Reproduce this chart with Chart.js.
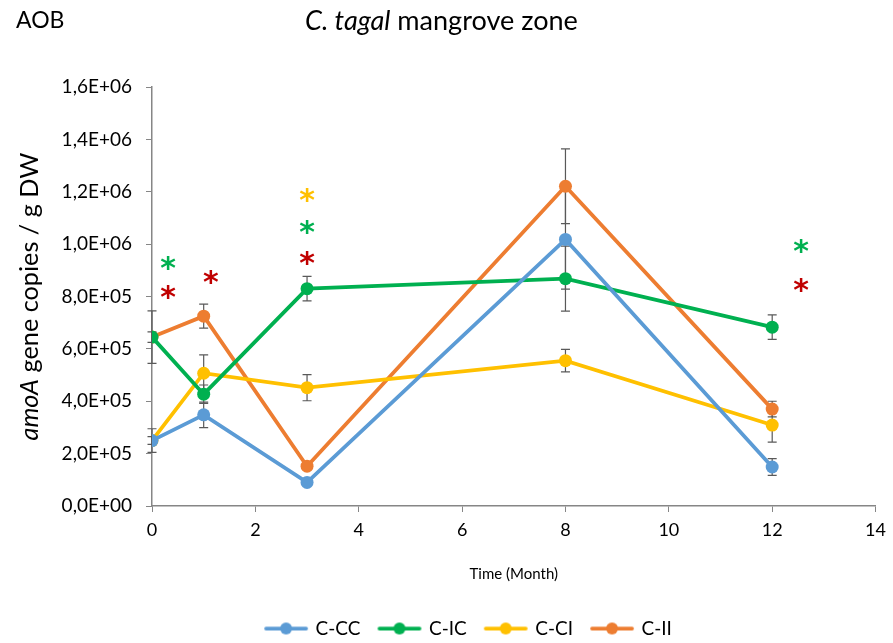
<!DOCTYPE html>
<html>
<head>
<meta charset="utf-8">
<script src="https://cdn.jsdelivr.net/npm/chart.js@4"></script>
<style>
  html, body { margin: 0; padding: 0; background: #fff; }
  #wrap { width: 893px; height: 643px; }
</style>
</head>
<body>
<div id="wrap"><canvas id="chart" width="893" height="643"></canvas></div>
<script>
// months sampled
const months = [0, 1, 3, 8, 12];

// amoA gene copies / g DW per treatment
const cc = [250000, 348000, 90000, 1018000, 149000];
const ic = [645000, 427000, 830000, 868000, 683000];
const ci = [250000, 507000, 452000, 555000, 309000];
const ii = [645000, 725000, 152000, 1221000, 370000];

// error bar half widths
const ccErr = [45000, 49000, 10000, 190000, 32000];
const icErr = [20000, 35000, 47000, 124000, 47000];
const ciErr = [15000, 70000, 50000, 43000, 65000];
const iiErr = [100000, 46000, 10000, 143000, 30000];

// significance asterisks: [x, y, colour]
const stars = [
    [0.31, 926000, "#00B050"], [0.31, 815000, "#C00000"],
    [1.14, 873000, "#C00000"],
    [3.0, 1187000, "#FFC000"], [3.0, 1064000, "#00B050"], [3.0, 946000, "#C00000"],
    [12.56, 991000, "#00B050"], [12.56, 842000, "#C00000"],
];

const yTicks = [0, 200000, 400000, 600000, 800000, 1000000, 1200000, 1400000, 1600000];

const FONT = "Lato, 'Open Sans', sans-serif";
const AXIS = "#868686";

function toXY(vals) {
    return vals.map((v, i) => ({ x: months[i], y: v }));
}

// legend swatch: line with a dot, pushed to the right of a wider canvas
function legendIcon(color) {
    const c = document.createElement("canvas");
    c.width = 62;
    c.height = 14;
    const g = c.getContext("2d");
    g.strokeStyle = color;
    g.lineWidth = 3.75;
    g.lineCap = "round";
    g.beginPath();
    g.moveTo(19, 7);
    g.lineTo(59, 7);
    g.stroke();
    g.fillStyle = color;
    g.beginPath();
    g.arc(39, 7, 6, 0, Math.PI * 2);
    g.fill();
    return c;
}

// font size that makes the given [text, italic] pieces span a width
function fitSize(ctx, parts, width) {
    const measure = (sz) => parts.reduce((sum, [t, it]) => {
        ctx.font = (it ? "italic " : "") + sz + "px " + FONT;
        return sum + ctx.measureText(t).width;
    }, 0);
    return 20 * width / measure(20);
}

function drawParts(ctx, parts, x, y, size) {
    parts.forEach(([t, it]) => {
        ctx.font = (it ? "italic " : "") + size + "px " + FONT;
        ctx.fillText(t, x, y);
        x += ctx.measureText(t).width;
    });
}

const series = [
    { label: "C-CC", data: cc, err: ccErr, color: "#5B9BD5" },
    { label: "C-IC", data: ic, err: icErr, color: "#00B050" },
    { label: "C-CI", data: ci, err: ciErr, color: "#FFC000" },
    { label: "C-II", data: ii, err: iiErr, color: "#ED7D31" },
];

const errorBars = {
    id: "errorBars",
    beforeDatasetsDraw(chart) {
        const { ctx, scales: { x, y } } = chart;
        ctx.save();
        ctx.strokeStyle = "#595959";
        ctx.lineWidth = 1.2;
        series.forEach((s) => {
            s.data.forEach((v, i) => {
                const px = x.getPixelForValue(months[i]);
                const top = y.getPixelForValue(v + s.err[i]);
                const bot = y.getPixelForValue(v - s.err[i]);
                ctx.beginPath();
                ctx.moveTo(px, top);
                ctx.lineTo(px, bot);
                ctx.moveTo(px - 4.5, top);
                ctx.lineTo(px + 4.5, top);
                ctx.moveTo(px - 4.5, bot);
                ctx.lineTo(px + 4.5, bot);
                ctx.stroke();
            });
        });
        ctx.restore();
    },
    afterDatasetsDraw(chart) {
        const { ctx, scales: { x, y } } = chart;
        ctx.save();
        ctx.font = "bold 30px 'DejaVu Sans', sans-serif";
        ctx.textAlign = "center";
        ctx.textBaseline = "middle";
        stars.forEach(([sx, sy, col]) => {
            ctx.fillStyle = col;
            ctx.fillText("*", x.getPixelForValue(sx), y.getPixelForValue(sy) + 7);
        });
        ctx.restore();
    },
    afterDraw(chart) {
        const { ctx, chartArea } = chart;
        ctx.save();
        ctx.fillStyle = "#000";
        ctx.textBaseline = "middle";
        ctx.font = "23px " + FONT;
        ctx.fillText("AOB", 16, 21);

        const title = [["C. tagal", true], [" mangrove zone", false]];
        drawParts(ctx, title, 305, 21, fitSize(ctx, title, 273));

        // y axis title with italic gene name
        const ylab = [["amoA", true], [" gene copies / g DW", false]];
        const ysz = fitSize(ctx, ylab, 288);
        ctx.translate(30, (chartArea.top + chartArea.bottom) / 2);
        ctx.rotate(-Math.PI / 2);
        drawParts(ctx, ylab, -144, 0, ysz);
        ctx.restore();
    },
};

new Chart(document.getElementById("chart"), {
    type: "line",
    data: {
        datasets: series.map((s) => ({
            label: s.label,
            data: toXY(s.data),
            borderColor: s.color,
            backgroundColor: s.color,
            borderWidth: 3.75,
            pointRadius: 6.5,
            pointHoverRadius: 6.5,
            pointBorderWidth: 0,
            tension: 0,
            icon: legendIcon(s.color),
        })),
    },
    options: {
        responsive: false,
        animation: false,
        layout: { padding: { top: 87, right: 15, left: 44, bottom: -5 } },
        plugins: {
            tooltip: { enabled: false },
            legend: {
                position: "bottom",
                labels: {
                    usePointStyle: true,
                    pointStyleWidth: 56,
                    color: "#000",
                    font: { family: FONT, size: 19 },
                    padding: 3,
                    generateLabels: (chart) => chart.data.datasets.map((d, i) => ({
                        text: d.label,
                        pointStyle: d.icon,
                        fillStyle: d.borderColor,
                        strokeStyle: d.borderColor,
                        lineWidth: 0,
                        datasetIndex: i,
                        fontColor: "#000",
                    })),
                },
            },
        },
        scales: {
            x: {
                type: "linear",
                min: 0,
                max: 14,
                afterFit: (s) => { s.height = 110; },
                ticks: { stepSize: 2, color: "#000", padding: 7, font: { family: FONT, size: 18 } },
                grid: { display: true, drawOnChartArea: false, drawTicks: true, tickLength: 6, tickColor: AXIS },
                border: { color: AXIS, width: 1.5 },
                title: {
                    display: true,
                    text: "Time (Month)",
                    color: "#000",
                    font: { family: FONT, size: 15 },
                    padding: { top: 10, bottom: 33 },
                },
            },
            y: {
                min: 0,
                max: 1600000,
                afterFit: (s) => { s.width = 108; },
                afterBuildTicks: (s) => { s.ticks = yTicks.map((v) => ({ value: v })); },
                ticks: {
                    color: "#000",
                    padding: 14,
                    font: { family: FONT, size: 19 },
                    callback: (v) => {
                        const e = Math.floor(Math.log10(Math.max(v, 1)));
                        const exp = v === 0 ? 0 : e;
                        const m = (v / Math.pow(10, exp)).toFixed(1).replace(".", ",");
                        return m + "E+" + String(exp).padStart(2, "0");
                    },
                },
                grid: { display: true, drawOnChartArea: false, drawTicks: true, tickLength: 6, tickColor: AXIS },
                border: { color: AXIS, width: 1.5 },
            },
        },
    },
    plugins: [errorBars],
});
</script>
</body>
</html>
